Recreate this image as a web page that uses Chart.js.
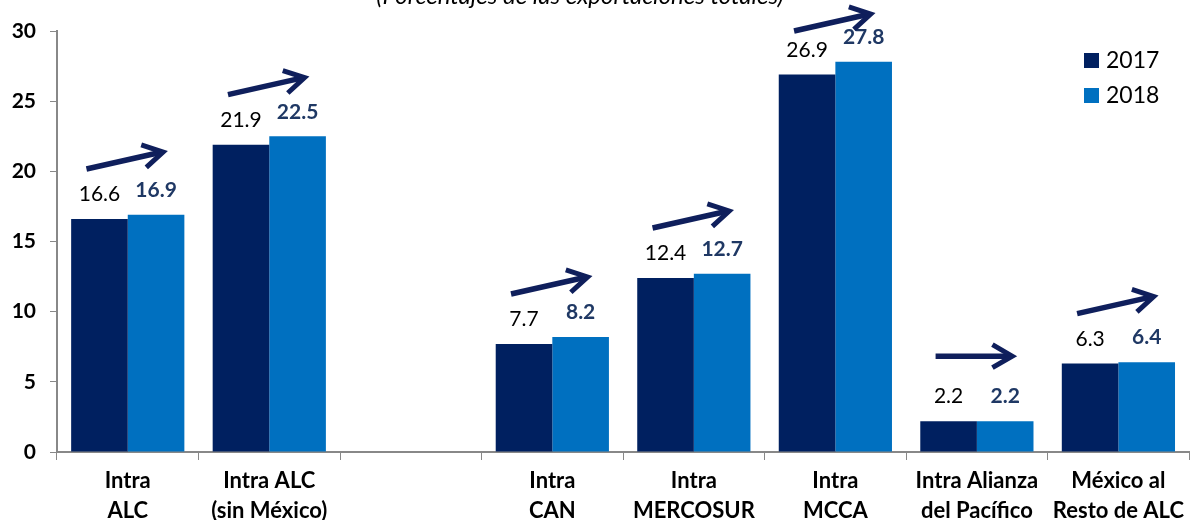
<!DOCTYPE html>
<html lang="es">
<head>
    <meta charset="UTF-8">
    <title>Exportaciones intrarregionales</title>
    <script src="https://cdn.jsdelivr.net/npm/chart.js"></script>
    <style>
        html, body { margin: 0; padding: 0; background: #fff; }
        #wrap { width: 1190px; height: 520px; }
    </style>
</head>
<body>
<div id="wrap"><canvas id="myChart" width="1190" height="520"></canvas></div>
<script>
// Datos
const categories = [
    ['Intra', 'ALC'],
    ['Intra ALC', '(sin México)'],
    '',
    ['Intra', 'CAN'],
    ['Intra', 'MERCOSUR'],
    ['Intra', 'MCCA'],
    ['Intra Alianza', 'del Pacífico'],
    ['México al', 'Resto de ALC']
];
const values2017 = [16.6, 21.9, null, 7.7, 12.4, 26.9, 2.2, 6.3];
const values2018 = [16.9, 22.5, null, 8.2, 12.7, 27.8, 2.2, 6.4];
const yTicks = [0, 5, 10, 15, 20, 25, 30];

const FONT = 'Lato, "Open Sans", sans-serif';
const NAVY = '#002060';
const BLUE = '#0070C0';

// titulo, leyenda, etiquetas y flechas
const extras = {
    id: 'extras',
    afterDatasetsDraw(chart) {
        const ctx = chart.ctx;
        const m0 = chart.getDatasetMeta(0);
        const m1 = chart.getDatasetMeta(1);
        ctx.save();

        // subtitulo (cortado arriba)
        ctx.font = 'italic 24px ' + FONT;
        ctx.fillStyle = '#000';
        ctx.textAlign = 'center';
        ctx.textBaseline = 'alphabetic';
        ctx.fillText('(Porcentajes de las exportaciones totales)', 580, 4);

        // etiquetas de valores
        ctx.textBaseline = 'bottom';
        values2017.forEach((v, i) => {
            if (v === null) return;
            const a = m0.data[i], b = m1.data[i];
            ctx.font = '21px ' + FONT;
            ctx.fillStyle = '#000';
            ctx.fillText(v.toFixed(1), a.x, a.y - 14);
            ctx.font = 'bold 21px ' + FONT;
            ctx.fillStyle = '#1F3864';
            ctx.fillText(values2018[i].toFixed(1), b.x, b.y - 14);

            // flecha
            const x1 = a.x - 13, x2 = b.x + 6;
            const flat = v === values2018[i];
            let y1 = a.y - (flat ? 65 : 50);
            let y2 = flat ? y1 : y1 - 17;
            if (y2 < 14) { y1 += 14 - y2; y2 = 14; }
            ctx.strokeStyle = '#0F1F5C';
            ctx.lineWidth = 5.5;
            ctx.lineCap = 'butt';
            ctx.beginPath();
            ctx.moveTo(x1, y1);
            ctx.lineTo(x2, y2);
            ctx.stroke();
            const ang = Math.atan2(y2 - y1, x2 - x1);
            const L = 22;
            ctx.lineWidth = 5;
            ctx.beginPath();
            ctx.moveTo(x2 - L * Math.cos(ang - 0.55), y2 - L * Math.sin(ang - 0.55));
            ctx.lineTo(x2 + 1, y2);
            ctx.lineTo(x2 - L * Math.cos(ang + 0.55), y2 - L * Math.sin(ang + 0.55));
            ctx.stroke();
        });

        // leyenda
        ctx.textAlign = 'left';
        ctx.textBaseline = 'middle';
        ctx.font = '23px ' + FONT;
        chart.data.datasets.forEach((ds, i) => {
            const y = 61 + i * 35;
            ctx.fillStyle = ds.backgroundColor;
            ctx.fillRect(1084, y - 8, 15, 15);
            ctx.fillStyle = '#000';
            ctx.fillText(ds.label, 1106, y);
        });
        ctx.restore();
    }
};

const config = {
    type: 'bar',
    data: {
        labels: categories,
        datasets: [
            { label: '2017', data: values2017, backgroundColor: NAVY },
            { label: '2018', data: values2018, backgroundColor: BLUE }
        ]
    },
    options: {
        responsive: false,
        animation: false,
        layout: { padding: { top: 31, right: 0, left: 0, bottom: 0 } },
        categoryPercentage: 0.8,
        barPercentage: 1.0,
        plugins: {
            legend: { display: false },
            tooltip: { enabled: false }
        },
        scales: {
            x: {
                offset: true,
                grid: {
                    offset: true,
                    drawOnChartArea: false,
                    drawTicks: true,
                    tickLength: 8,
                    color: '#888'
                },
                border: { color: '#888', width: 2 },
                ticks: {
                    color: '#000',
                    font: { family: FONT, size: 22, weight: 'bold', lineHeight: 1.36 },
                    maxRotation: 0,
                    autoSkip: false,
                    padding: 6
                },
                afterFit(scale) { scale.height = 68; }
            },
            y: {
                min: 0,
                max: 30,
                afterBuildTicks(scale) { scale.ticks = yTicks.map(v => ({ value: v })); },
                grid: {
                    drawOnChartArea: false,
                    drawTicks: true,
                    tickLength: 7,
                    color: '#888'
                },
                border: { color: '#888', width: 2 },
                ticks: {
                    color: '#000',
                    font: { family: FONT, size: 21, weight: 'bold' },
                    padding: 14
                },
                afterFit(scale) { scale.width = 57; }
            }
        }
    },
    plugins: [extras]
};

const ctx = document.getElementById('myChart').getContext('2d');
const myChart = new Chart(ctx, config);
</script>
</body>
</html>
